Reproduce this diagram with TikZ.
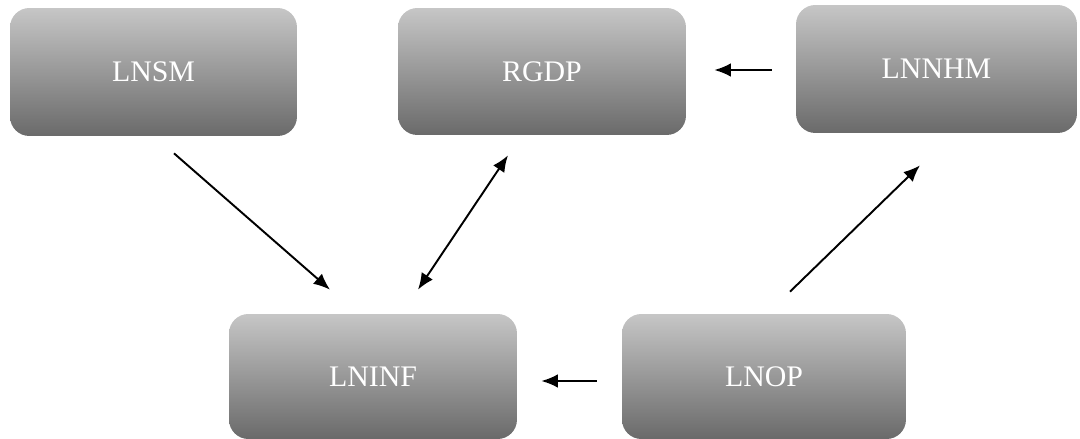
\documentclass[tikz,border=0pt]{standalone}
\usepackage{fontspec}
\setmainfont{Liberation Serif}
\usepackage{xcolor}
\usepackage{tikz}
\usetikzlibrary{arrows.meta,positioning,calc}
\definecolor{BoxTop}{HTML}{C6C6C6}
\definecolor{BoxBottom}{HTML}{6A6A6A}
\tikzset{
  linkarrow/.style={-{Latex[length=3.3mm,width=2.7mm]}, line width=1.1pt, draw=black},
  botharrow/.style={{Latex[length=3.3mm,width=2.7mm]}-{Latex[length=3.3mm,width=2.7mm]}, line width=1.1pt, draw=black},
  varbox/.style={rounded corners=11pt, top color=BoxTop, bottom color=BoxBottom, draw=none, align=center, text=white, font=\fontsize{17}{20}\selectfont, inner sep=0pt},
}
\begin{document}
\begin{tikzpicture}[x=0.02cm,y=-0.02cm]
\path[use as bounding box] (0,0) rectangle (1080,439);
\fill[white] (0,0) rectangle (1080,439);

% top row
\node[varbox,minimum width=5.74cm,minimum height=2.56cm] (lnsm) at (153.5,72) {LNSM};
\node[varbox,minimum width=5.76cm,minimum height=2.54cm] (rgdp) at (542,71.5) {RGDP};
\node[varbox,minimum width=5.62cm,minimum height=2.56cm] (lnnhm) at (936.5,69) {LNNHM};
% bottom row
\node[varbox,minimum width=5.76cm,minimum height=2.50cm] (lninf) at (373,376.5) {LNINF};
\node[varbox,minimum width=5.68cm,minimum height=2.50cm] (lnop) at (764,376.5) {LNOP};

% links
\draw[linkarrow] ($(lnsm.south)+(20.5,17)$) -- ($(lninf.north)+(-43,-24)$);
\draw[botharrow] ($(rgdp.south)+(-34,20)$) -- ($(lninf.north)+(45,-24)$);
\draw[linkarrow] ($(lnnhm.west)+(-24,1)$) -- ($(rgdp.east)+(28,-1.5)$);
\draw[linkarrow] ($(lnop.north)+(26,-22)$) -- ($(lnnhm.south)+(-16.5,32)$);
\draw[linkarrow] ($(lnop.west)+(-25,4.5)$) -- ($(lninf.east)+(24,4.5)$);
\end{tikzpicture}
\end{document}
